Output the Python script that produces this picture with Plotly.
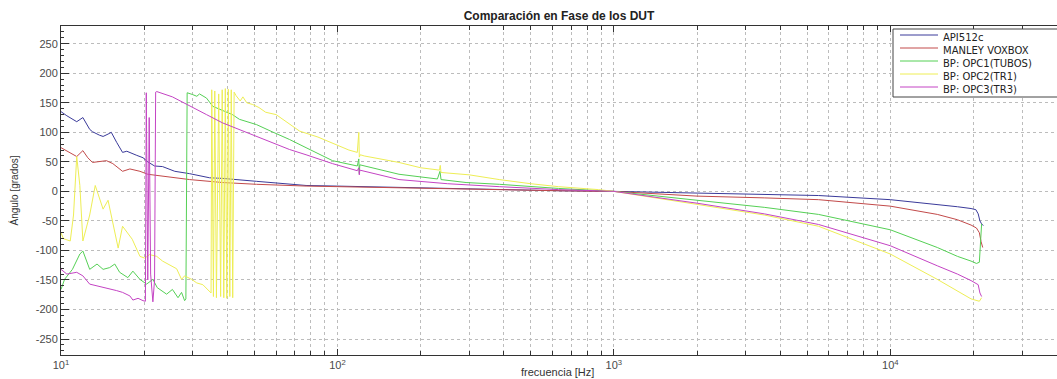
import math
import plotly.graph_objects as go

# ---------------- data ----------------
names = ["API512c", "MANLEY VOXBOX", "BP: OPC1(TUBOS)", "BP: OPC2(TR1)", "BP: OPC3(TR3)"]
colors = ["#3a3a9a", "#c24a4a", "#55d055", "#eeee55", "#c444c4"]

api_f = [10, 10.5, 11.4, 12.0, 12.7, 13.0, 13.8, 14.2, 14.8, 15.2, 15.9, 16.7, 17.3, 18.2, 18.8,
         19.8, 20.6, 21.8, 23.3, 25.8, 29.2, 34.5, 38.4, 51, 77, 99, 150, 250, 400, 650, 1000,
         2000, 3500, 5500, 10000, 14800, 17500, 19600, 20400, 20800, 21100, 21400, 21700]
api_v = [135, 128, 118, 125, 105, 101, 95, 93, 97, 100, 83, 66, 68, 63, 61,
         57, 50, 43, 42, 34, 30, 23, 22, 17, 10, 9, 7, 5, 3, 1, 0,
         -3, -5, -7, -14, -22, -26, -29, -31, -38, -50, -55, -58]

manley_f = [10, 10.5, 11.4, 12.0, 12.5, 13.0, 13.8, 14.6, 15.4, 16.7, 17.75, 18.2, 19.3, 20.6,
            22.3, 29.2, 38.4, 51, 77, 99, 150, 250, 400, 650, 1000, 2000, 3500, 5500, 10000,
            14800, 17500, 19600, 20500, 21000, 21300, 21600]
manley_v = [74, 68, 59, 69, 57, 49, 51, 52, 47, 34, 38, 37, 34, 29,
            27, 20, 15, 12, 9, 8, 6, 4, 2.5, 1, 0, -8, -11, -14, -25,
            -39, -48, -57, -62, -70, -85, -95]

opc1_f = [10, 10.3, 11.0, 11.7, 12.0, 12.7, 13.5, 14.2, 15.0, 15.65, 16.3, 17.45, 18.2, 19.3,
          20.4, 21.5, 22.3, 24.1, 25.3, 26.5, 27.3, 28.0, 28.3, 28.6, 29.9, 31.0, 31.7, 33.6,
          35.4, 37.5, 41.7, 44.2, 51, 58, 67, 77, 96, 118, 119.5, 120, 120.5, 167, 230, 235,
          237, 292, 385, 630, 1000, 2000, 3500, 5500, 10000, 14800, 17500, 19600, 20500,
          21000, 21200, 21400]
opc1_v = [-166, -149, -132, -106, -101, -132, -123, -132, -129, -123, -137, -146, -135, -149,
          -157, -149, -163, -174, -166, -180, -171, -185, -182, 167, 164, 161, 165, 158,
          144, 139, 130, 122, 113, 101, 88, 74, 52, 43, 55, 30, 45, 29, 21, 34,
          20, 15, 12, 5, 0, -15, -27, -39, -65, -95, -110, -118, -122,
          -120, -80, -55]

opc2_f = [10, 10.2, 10.8, 11.1, 11.4, 11.7, 12.0, 12.7, 13.3, 14.2, 14.8, 16.1, 16.7, 18.1,
          19.3, 20.1, 20.9, 22.2, 23.3, 24.7, 26.2, 27.3, 28.0, 29.7, 31.0, 32.6, 34.5,
          34.9, 35.1, 35.6, 36.0, 36.5, 37.2, 37.8, 38.3, 38.8, 39.3, 39.8, 40.3, 40.8, 41.3,
          41.8, 42.3, 43.0, 44.5, 45.5, 47, 49.4, 52, 55, 60, 65, 73, 85, 96, 110, 118,
          119.5, 120, 121, 125, 140, 167, 200, 234, 235.5, 237, 300, 385, 500, 630, 880, 1000,
          2000, 3500, 5500, 10000, 14800, 17500, 19600, 21000, 21400]
opc2_v = [-70, -80, -84, -40, 59, 10, -84, -40, 10, -30, -15, -96, -59, -81,
          -110, -113, -107, -110, -118, -124, -131, -149, -143, -149, -155, -158, -169,
          -172, 172, -178, 170, -180, 165, -178, 172, -180, 174, -181, 173, -178, 172,
          -180, 168, 162, 153, 160, 150, 147, 142, 134, 130, 118, 102, 92, 82, 70, 66,
          100, 58, 62, 60, 56, 49, 40, 36, 44, 32, 28, 20, 13, 8, 3, 0,
          -22, -40, -59, -106, -149, -168, -182, -186, -180]

opc3_f = [10, 10.5, 11.4, 12.0, 12.7, 13.5, 14.6, 15.9, 16.7, 17.75, 18.2, 19.0, 19.8, 20.2,
          20.35, 20.6, 20.85, 21.1, 21.5, 21.8, 22.0, 22.2, 25.3, 28.5, 33.6, 38.4, 51, 67,
          77, 96, 118, 119.5, 120, 120.5, 167, 250, 385, 630, 880, 1000, 2000, 3500, 5500,
          10000, 14800, 17500, 19600, 20800, 21100, 21400]
opc3_v = [-132, -140, -137, -143, -157, -160, -163, -168, -171, -177, -184, -181, -185, -186,
          167, -150, 125, -140, -187, -150, 168, 169, 160, 148, 130, 116, 93, 71,
          62, 47, 35, 40, 28, 36, 20, 13, 8, 3, 1, 0, -20, -38, -56,
          -92, -126, -140, -151, -158, -172, -178]

series_f = [api_f, manley_f, opc1_f, opc2_f, opc3_f]
series_v = [api_v, manley_v, opc1_v, opc2_v, opc3_v]

y_ticks = [-250, -200, -150, -100, -50, 0, 50, 100, 150, 200, 250]
x_decades = [10, 100, 1000, 10000]
x_decade_labels = ["10<sup>1</sup>", "10<sup>2</sup>", "10<sup>3</sup>", "10<sup>4</sup>"]
x_max = 40100
y_range = [-277, 280]

# ---------------- figure ----------------
fig = go.Figure()
for f, v, n, c in zip(series_f, series_v, names, colors):
    fig.add_trace(go.Scatter(x=f, y=v, mode="lines", name=n,
                             line=dict(color=c, width=1)))

x_minor_vals = [m * d for d in x_decades for m in range(2, 10) if m * d <= x_max]

W, H = 1057, 379
ml, mr, mt, mb = 61, 0, 26, 24
pw, ph = W - ml - mr, H - mt - mb


def px_x(p):
    return (p - ml) / pw


def px_y(p):
    return (H - mb - p) / ph


axis_col = "#333333"
grid_col = "#bcbcbc"

fig.update_layout(
    width=W, height=H,
    margin=dict(l=ml, r=mr, t=mt, b=mb),
    plot_bgcolor="white", paper_bgcolor="white",
    showlegend=False,
    font=dict(family="Liberation Sans, Arial, sans-serif", size=11, color="#4a4a4a"),
    title=dict(text="<b>Comparación en Fase de los DUT</b>", x=0.5, xref="paper",
               xanchor="center", y=1 - 16 / H, yref="container", yanchor="middle",
               font=dict(size=12, color="#222222")),
)

fig.update_xaxes(
    type="log", range=[1, math.log10(x_max)],
    tickvals=x_decades, ticktext=x_decade_labels,
    showgrid=True, gridcolor=grid_col, griddash="dot", gridwidth=1,
    minor=dict(tickmode="array", tickvals=x_minor_vals, ticks="inside", ticklen=4,
               tickcolor=axis_col, showgrid=True, gridcolor=grid_col, griddash="dot",
               gridwidth=1),
    showline=True, linecolor=axis_col, linewidth=1, mirror="ticks",
    ticks="inside", ticklen=6, tickcolor=axis_col,
    zeroline=False, automargin=False,
    tickfont=dict(size=11, color="#4a4a4a"),
)
fig.update_yaxes(
    range=y_range,
    tickvals=y_ticks, ticktext=[str(t) for t in y_ticks],
    showgrid=True, gridcolor=grid_col, griddash="dot", gridwidth=1,
    showline=True, linecolor=axis_col, linewidth=1, mirror=False,
    ticks="inside", ticklen=8, tickcolor=axis_col,
    minor=dict(ticks="inside", ticklen=3, dtick=10, tickcolor=axis_col, showgrid=False),
    zeroline=False, automargin=False,
    tickfont=dict(size=11, color="#4a4a4a"),
)

# axis titles
fig.add_annotation(text="frecuencia [Hz]", xref="paper", yref="paper",
                   x=px_x(557), y=px_y(372), xanchor="center", yanchor="middle",
                   showarrow=False, font=dict(size=11, color="#333333"))
fig.add_annotation(text="Ángulo [grados]", xref="paper", yref="paper",
                   x=px_x(13), y=0.5, xanchor="center", yanchor="middle", textangle=-90,
                   showarrow=False, font=dict(size=10, color="#333333"))

# legend box (MATLAB style): one multi-line text block + colour samples
leg_font = 10
leg_step = leg_font * 1.3
leg_mid = 61
fig.add_shape(type="rect", xref="paper", yref="paper",
              x0=px_x(893), x1=px_x(1070), y0=px_y(97), y1=px_y(29),
              line=dict(color="#444444", width=1), fillcolor="white", layer="above")
for i, c in enumerate(colors):
    yy = px_y(leg_mid + (i - 2) * leg_step)
    fig.add_shape(type="line", xref="paper", yref="paper",
                  x0=px_x(900), x1=px_x(938), y0=yy, y1=yy,
                  line=dict(color=c, width=1), layer="above")
fig.add_annotation(text="<br>".join(names), xref="paper", yref="paper",
                   x=px_x(942), y=px_y(leg_mid + 3), xanchor="left", yanchor="middle",
                   align="left", showarrow=False, borderpad=0,
                   font=dict(size=leg_font, family="DejaVu Sans, Liberation Sans, sans-serif",
                             color="#222222"))

fig.write_html("out.html")
